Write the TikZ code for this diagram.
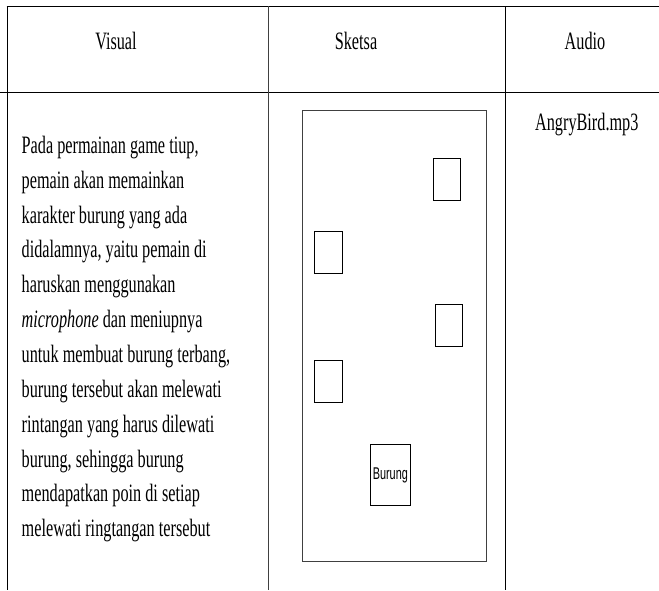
\documentclass[tikz,border=0pt]{standalone}
\usepackage{fontspec}
\setmainfont{Liberation Serif}[FakeStretch=0.65]
\newfontfamily\burungfont{Liberation Sans}[FakeStretch=0.64]
\tikzset{
  garis/.style={line width=1pt},
  judul/.style={font=\fontsize{25}{30}\selectfont, inner sep=0pt},
  rintangan/.style={draw, line width=0.9pt, inner sep=0pt, minimum width=27.3pt, minimum height=42pt},
}
\begin{document}
\begin{tikzpicture}[x=1pt,y=-1pt]
    \useasboundingbox (0,0) rectangle (659,590);

    % tabel
    \draw[garis] (6.5,6) -- (659,6);
    \draw[garis] (0,92) -- (659,92);
    \draw[garis] (7,6) -- (7,590);
    \draw[garis,black!75] (268,6) -- (268,590);
    \draw[garis] (505.7,6) -- (505.7,590);

    % kepala kolom
    \node[judul] (hvisual) at (116,41) {Visual};
    \node[judul] (hsketsa) at (356,41) {Sketsa};
    \node[judul] (haudio) at (585,41) {Audio};

    % isi visual (base = baris terakhir)
    \node[judul, anchor=base west, align=left,
          font=\fontsize{25}{34.85}\selectfont] (desc) at (21.5,536.7)
        {Pada permainan game tiup,\\
         pemain akan memainkan\\
         karakter burung yang ada\\
         didalamnya, yaitu pemain di\\
         haruskan menggunakan\\
         \emph{microphone} dan meniupnya\\
         untuk membuat burung terbang,\\
         burung tersebut akan melewati\\
         rintangan yang harus dilewati\\
         burung, sehingga burung\\
         mendapatkan poin di setiap\\
         melewati ringtangan tersebut};

    % sketsa layar
    \node[draw, black!75, line width=1pt, inner sep=0pt,
          minimum width=183.3pt, minimum height=451.7pt] (layar) at (394.35,335.85) {};
    \node[rintangan] (r1) at (447,179.3) {};
    \node[rintangan] (r2) at (328.35,252.3) {};
    \node[rintangan] (r3) at (449.15,325.3) {};
    \node[rintangan] (r4) at (328.35,381) {};
    \node[rintangan, minimum width=39.3pt, minimum height=61.4pt,
          font=\burungfont\fontsize{17}{20}\selectfont] (burung) at (390.35,475) {Burung};

    % audio
    \node[judul] (file) at (586.8,125) {AngryBird.mp3};
\end{tikzpicture}
\end{document}
